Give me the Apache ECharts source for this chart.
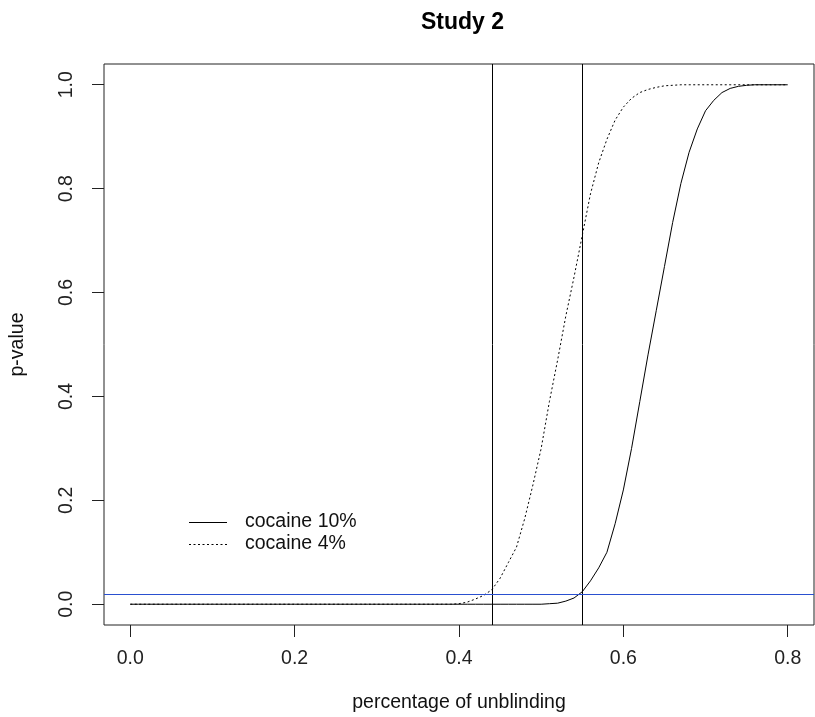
<!DOCTYPE html>
<html>
<head>
    <meta charset="utf-8">
    <title>Study 2</title>
    <script src="https://cdn.jsdelivr.net/npm/echarts@6/dist/echarts.min.js"></script>
</head>
<body style="margin:0;background:#fff;">
    <div id="main" style="width:815px;height:717px;"></div>
    <script type="text/javascript">
        // percentage of unblinding (x) and p-values
        var unblinding = [
            0.00, 0.01, 0.02, 0.03, 0.04, 0.05, 0.06, 0.07, 0.08, 0.09,
            0.10, 0.11, 0.12, 0.13, 0.14, 0.15, 0.16, 0.17, 0.18, 0.19,
            0.20, 0.21, 0.22, 0.23, 0.24, 0.25, 0.26, 0.27, 0.28, 0.29,
            0.30, 0.31, 0.32, 0.33, 0.34, 0.35, 0.36, 0.37, 0.38, 0.39,
            0.40, 0.41, 0.42, 0.43, 0.44, 0.45, 0.46, 0.47, 0.48, 0.49,
            0.50, 0.51, 0.52, 0.53, 0.54, 0.55, 0.56, 0.57, 0.58, 0.59,
            0.60, 0.61, 0.62, 0.63, 0.64, 0.65, 0.66, 0.67, 0.68, 0.69,
            0.70, 0.71, 0.72, 0.73, 0.74, 0.75, 0.76, 0.77, 0.78, 0.79,
            0.80
        ];
        var cocaine10 = [
            0, 0, 0, 0, 0, 0, 0, 0, 0, 0,
            0, 0, 0, 0, 0, 0, 0, 0, 0, 0,
            0, 0, 0, 0, 0, 0, 0, 0, 0, 0,
            0, 0, 0, 0, 0, 0, 0, 0, 0, 0,
            0, 0, 0, 0, 0, 0, 0, 0, 0, 0,
            0, 0.001, 0.002, 0.006, 0.012, 0.024, 0.045, 0.07, 0.10, 0.155,
            0.22, 0.30, 0.39, 0.48, 0.565, 0.65, 0.735, 0.81, 0.87, 0.915,
            0.95, 0.97, 0.985, 0.993, 0.997, 0.999, 1, 1, 1, 1,
            1
        ];
        var cocaine4 = [
            0, 0, 0, 0, 0, 0, 0, 0, 0, 0,
            0, 0, 0, 0, 0, 0, 0, 0, 0, 0,
            0, 0, 0, 0, 0, 0, 0, 0, 0, 0,
            0, 0, 0, 0, 0, 0, 0, 0, 0, 0,
            0.001, 0.004, 0.01, 0.017, 0.028, 0.05, 0.08, 0.11, 0.165, 0.23,
            0.30, 0.39, 0.47, 0.555, 0.63, 0.71, 0.79, 0.85, 0.895, 0.932,
            0.957, 0.974, 0.985, 0.991, 0.995, 0.998, 0.999, 1, 1, 1,
            1, 1, 1, 1, 1, 1, 1, 1, 1, 1,
            1
        ];
        var xTicks = [0, 0.2, 0.4, 0.6, 0.8];
        var yTicks = [0, 0.2, 0.4, 0.6, 0.8, 1.0];
        var cutoffs = [0.44, 0.55];   // vertical reference lines
        var alphaLine = 0.023;        // blue horizontal line

        var xMin = -0.032, xMax = 0.832;   // R pads the range by 4%
        var yMin = -0.04, yMax = 1.04;

        var font = '"Liberation Sans", Arial, sans-serif';
        var fs = 19.5;
        var tickLen = 12;

        function pairs(ys) {
            return unblinding.map(function (x, i) { return [x, ys[i]]; });
        }

        var myChart = echarts.init(document.getElementById('main'));

        var legendGraphic = [
            { type: 'line', shape: { x1: 189, y1: 522.5, x2: 227, y2: 522.5 }, style: { stroke: '#000', lineWidth: 1 } },
            { type: 'line', shape: { x1: 189, y1: 544.5, x2: 227, y2: 544.5 }, style: { stroke: '#000', lineWidth: 1, lineDash: [2, 2.5] } },
            { type: 'text', x: 245, y: 522, style: { text: 'cocaine 10%', fontFamily: font, fontSize: fs, fill: '#111', verticalAlign: 'middle' } },
            { type: 'text', x: 245, y: 544, style: { text: 'cocaine 4%', fontFamily: font, fontSize: fs, fill: '#111', verticalAlign: 'middle' } }
        ];

        var option = {
            animation: false,
            backgroundColor: '#fff',
            title: {
                text: 'Study 2',
                left: 416,
                top: 6,
                textStyle: { fontFamily: font, fontSize: 23, fontWeight: 'bold', color: '#000' }
            },
            grid: {
                left: 104, top: 64, width: 710, height: 561,
                outerBoundsMode: 'none',
                show: true, borderColor: '#222', borderWidth: 1
            },
            xAxis: {
                type: 'value',
                min: xMin, max: xMax,
                name: 'percentage of unblinding',
                nameLocation: 'middle',
                nameGap: 68,
                nameTextStyle: { fontFamily: font, fontSize: fs, color: '#111' },
                axisLine: { show: false, onZero: false },
                axisTick: { show: false },
                axisLabel: {
                    customValues: xTicks, margin: 24,
                    fontFamily: font, fontSize: fs, color: '#222',
                    formatter: function (v) { return v.toFixed(1); }
                },
                splitLine: { show: false }
            },
            yAxis: {
                type: 'value',
                min: yMin, max: yMax,
                name: 'p-value',
                nameLocation: 'middle',
                nameGap: 76,
                nameTextStyle: { fontFamily: font, fontSize: fs, color: '#111' },
                axisLine: { show: false, onZero: false },
                axisTick: { show: false },
                axisLabel: {
                    customValues: yTicks, margin: 27, rotate: 90,
                    fontFamily: font, fontSize: fs, color: '#222',
                    formatter: function (v) { return v.toFixed(1); }
                },
                splitLine: { show: false }
            },
            series: [
                {
                    name: 'cocaine 10%',
                    type: 'line',
                    data: pairs(cocaine10),
                    showSymbol: false,
                    lineStyle: { color: '#000', width: 1 },
                    markLine: {
                        silent: true,
                        symbol: ['none', 'none'],
                        label: { show: false },
                        data: [
                            { xAxis: cutoffs[0], lineStyle: { color: '#000', width: 1, type: 'solid' } },
                            { xAxis: cutoffs[1], lineStyle: { color: '#000', width: 1, type: 'solid' } },
                            { yAxis: alphaLine, lineStyle: { color: '#2a50d0', width: 1, type: 'solid' } }
                        ]
                    }
                },
                {
                    name: 'cocaine 4%',
                    type: 'line',
                    data: pairs(cocaine4),
                    showSymbol: false,
                    lineStyle: { color: '#000', width: 1, type: [2, 2.5] }
                }
            ],
            graphic: legendGraphic
        };

        myChart.setOption(option);

        // outward ticks (R style): axisTick outside the grid does not show up here,
        // so place them with the axes' own scales
        function crisp(p) { return Math.round(p - 0.5) + 0.5; }
        var boxBottom = myChart.convertToPixel({ yAxisIndex: 0 }, yMin);
        var boxLeft = myChart.convertToPixel({ xAxisIndex: 0 }, xMin);
        var tickStyle = { stroke: '#222', lineWidth: 1 };
        var ticks = [];
        xTicks.forEach(function (v) {
            var px = crisp(myChart.convertToPixel({ xAxisIndex: 0 }, v));
            ticks.push({ type: 'line', silent: true, shape: { x1: px, y1: boxBottom, x2: px, y2: boxBottom + tickLen }, style: tickStyle });
        });
        yTicks.forEach(function (v) {
            var py = crisp(myChart.convertToPixel({ yAxisIndex: 0 }, v));
            ticks.push({ type: 'line', silent: true, shape: { x1: boxLeft - tickLen, y1: py, x2: boxLeft, y2: py }, style: tickStyle });
        });
        myChart.setOption({ graphic: legendGraphic.concat(ticks) });
    </script>
</body>
</html>
